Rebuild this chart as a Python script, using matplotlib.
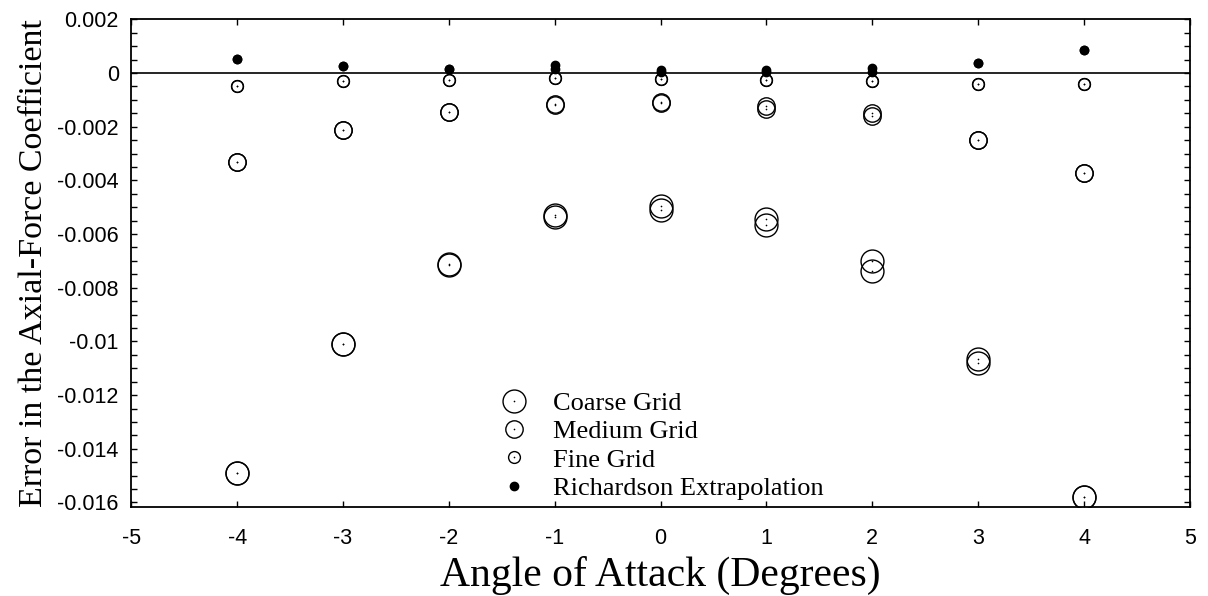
import numpy as np
import matplotlib
matplotlib.use("Agg")
import matplotlib.pyplot as plt
from matplotlib.ticker import MultipleLocator

# ------------------------------------------------------------------
# Axial-force error vs angle of attack, two runs per grid level
# ------------------------------------------------------------------
alpha = [-4, -3, -2, -1, 0, 1, 2, 3, 4]

coarse_a = [-0.0149, -0.0101, -0.0071, -0.0053, -0.00495, -0.00544, -0.0070, -0.01065, -0.0158]
coarse_b = [-0.0149, -0.0101, -0.00715, -0.00535, -0.0051, -0.00566, -0.00738, -0.0108, -0.0158]

medium_a = [-0.00332, -0.00212, -0.00145, -0.00117, -0.00107, -0.00123, -0.00148, -0.0025, -0.00373]
medium_b = [-0.00332, -0.00212, -0.00145, -0.00121, -0.00113, -0.00134, -0.00162, -0.0025, -0.00373]

fine_a = [-0.00048, -0.0003, -0.00026, -0.0002, -0.00023, -0.00026, -0.0003, -0.0004, -0.00041]
fine_b = [-0.00048, -0.0003, -0.00026, -0.0002, -0.00023, -0.00026, -0.0003, -0.0004, -0.00041]

rich_a = [0.00052, 0.00026, 0.00016, 0.0003, 0.0001, 0.00013, 0.00018, 0.00038, 0.00086]
rich_b = [0.00052, 0.00026, 0.00014, 0.00015, 0.00002, 0.00005, 0.00005, 0.00038, 0.00086]

plt.rcParams['font.family'] = ['Liberation Sans', 'DejaVu Sans']
plt.rcParams['axes.unicode_minus'] = False

fig = plt.figure(figsize=(12.08, 5.96), dpi=100)
ax = fig.add_axes([0.1087, 0.1493, 0.8763, 0.8183])

ax.axhline(0, color='black', linewidth=1.2, zorder=1)

def grid_series(ya, yb, ms, filled=False):
    face = 'black' if filled else 'none'
    for ys in (ya, yb):
        h, = ax.plot(alpha, ys, linestyle='none', marker='o', markersize=ms,
                     markerfacecolor=face, markeredgecolor='black',
                     markeredgewidth=1.0, zorder=3)
    # tiny centre dot on each open symbol
    d = None
    if not filled:
        for ys in (ya, yb):
            d, = ax.plot(alpha, ys, linestyle='none', marker='o', markersize=1.2,
                         markerfacecolor='black', markeredgecolor='none', zorder=4)
    return (h, d) if d is not None else h

h_coarse = grid_series(coarse_a, coarse_b, 16.5)
h_medium = grid_series(medium_a, medium_b, 12.5)
h_fine = grid_series(fine_a, fine_b, 8.5)
h_rich = grid_series(rich_a, rich_b, 6, filled=True)

ax.set_xlim(-5, 5)
ax.set_ylim(-0.01617, 0.002)
ax.xaxis.set_major_locator(MultipleLocator(1))
ax.yaxis.set_major_locator(MultipleLocator(0.002))
ax.yaxis.set_minor_locator(MultipleLocator(0.0005))
ax.yaxis.set_major_formatter(plt.FuncFormatter(lambda v, p: f"{v:g}" if abs(v) > 1e-12 else "0"))

ax.tick_params(which='both', direction='in', top=True, right=True,
               length=4, width=1.0, labelsize=15.5)
ax.tick_params(axis='y', pad=9)
ax.tick_params(axis='x', pad=15)
for s in ax.spines.values():
    s.set_linewidth(1.3)

ax.set_xlabel('Angle of Attack (Degrees)', family='Liberation Serif', fontsize=30, labelpad=5)
ax.set_ylabel('Error in the Axial-Force Coefficient', family='Liberation Serif', fontsize=24.5, labelpad=6)

ax.legend([h_coarse, h_medium, h_fine, h_rich],
          ['Coarse Grid', 'Medium Grid', 'Fine Grid', 'Richardson Extrapolation'],
          loc='upper left', bbox_to_anchor=(0.327, 0.258), frameon=False,
          prop={'family': 'Liberation Serif', 'size': 19},
          labelspacing=0.18, handlelength=2.0, handletextpad=0.45, borderaxespad=0)

fig.savefig('out.png', dpi=100)
